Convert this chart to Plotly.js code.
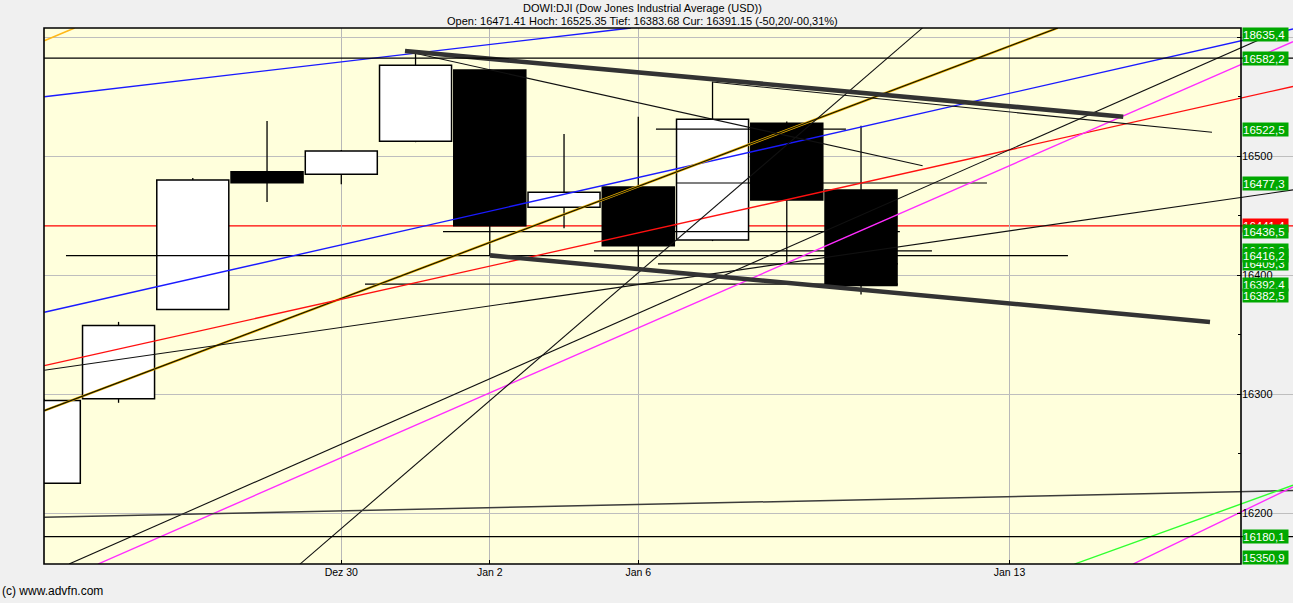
<!DOCTYPE html>
<html><head><meta charset="utf-8">
<script src="https://cdn.plot.ly/plotly-3.0.1.min.js"></script>
<style>html,body{margin:0;padding:0;background:#f0f0f0;overflow:hidden}#chart{width:1293px;height:603px}</style>
</head><body><div id="chart"></div>
<script>
// ---- data ----
const dayLabels = ['Dez 23','Dez 24','Dez 26','Dez 27','Dez 30','Dez 31','Jan 2','Jan 3','Jan 6','Jan 7','Jan 8','Jan 9','Jan 10','Jan 13'];
const opens  = [16225, 16296, 16371, 16486.8, 16484.6, 16512.4, 16572.3, 16456.9, 16474, 16429.4, 16527.5, 16471.41];
const highs  = [16296, 16360.6, 16481.5, 16529.4, 16505, 16586.3, 16573, 16518.5, 16533, 16562.4, 16529, 16525.35];
const lows   = [16225, 16292.6, 16371, 16461.3, 16476.2, 16511.6, 16416.2, 16439.2, 16405.9, 16428.5, 16409.3, 16383.68];
const closes = [16294.6, 16357.6, 16479.9, 16477.6, 16504.2, 16576.2, 16441.35, 16469.5, 16424.6, 16530.9, 16463, 16391.15];
const xTickLabels = ['Dez 30','Jan 2','Jan 6','Jan 13'];
const yTickValues = [16200, 16300, 16400, 16500, 16600];
const yMinorValues = [16150, 16250, 16350, 16450, 16550];

// drawn trend lines (day index, value) -> (day index, value)
const trendX0 = [0, 0, 0, 0, 0, 0, 0.333, 0.722, 3.444, 0, 13.875, 14.663, 4.858, 8.993, 4.858, 6.003];
const trendY0 = [16549.8, 16368.7, 16286.0, 16596.9, 16323.8, 16319.9, 16157.1, 16157.1, 16157.1, 16196.4, 16157.1, 16157.1, 16588.2, 16562.2, 16588.2, 16416.5];
const trendX1 = [7.902, 16.818, 13.650, 0.408, 16.818, 16.818, 16.723, 16.818, 11.828, 16.818, 16.818, 16.818, 11.830, 15.727, 14.532, 15.700];
const trendY1 = [16607.6, 16606.7, 16607.6, 16607.6, 16558.4, 16471.5, 16607.6, 16596.0, 16607.6, 16218.9, 16223.3, 16221.9, 16491.8, 16519.9, 16533.0, 16360.5];
const trendKind = ['blue','blue','gold','orange','red','black','black','magenta','black','gray','green','magenta','black','black','thick','thick'];

// horizontal segments
const segValues = [16416.2, 16392.4, 16477.3, 16436.5, 16522.5, 16409.3, 16420.2];
const segX0 = [0.292, 4.319, 8.521, 5.370, 8.238, 8.265, 7.403];
const segX1 = [13.787, 11.497, 12.696, 11.523, 10.797, 11.497, 11.955];
const fullLevels = [16582.2, 16180.1];
const prevClose = 16441.35;

// price tags on the right (drawn in this order)
const tagTexts = ['18635,4','16582,2','16522,5','16477,3','16441,4','16436,5','16420,2','16409,3','16416,2','16392,4','16382,5','16180,1','15350,9'];
const tagIsPrev = [false,false,false,false,true,false,false,false,false,false,false,false,false];

const titleLine1 = 'DOWI:DJI (Dow Jones Industrial Average (USD))';
const titleLine2 = 'Open: 16471.41 Hoch: 16525.35 Tief: 16383.68 Cur: 16391.15 (-50,20/-00,31%)';
const credit = '(c) www.advfn.com';

// ---- build ----
const W = 1293, H = 603, ML = 44, MT = 28, MB = 39;
const plotW = W - ML;
const axisFrac = (1241 - ML) / plotW;
const yRange = [16157.14, 16607.56];
const xRange = [-0.004, 16.818];
const FONT = 'Liberation Sans, Arial, sans-serif';

const up = {x:[], base:[], y:[]}, dn = {x:[], base:[], y:[]};
const wx = [], wy = [];
opens.forEach((o, i) => {
  const c = closes[i], lo = Math.min(o, c), hi = Math.max(o, c);
  const t = c >= o ? up : dn;
  t.x.push(i); t.base.push(lo); t.y.push(Math.max(hi - lo, 0.6));
  if (highs[i] > hi) { wx.push(i, i, null); wy.push(hi, highs[i], null); }
  if (lows[i] < lo) { wx.push(i, i, null); wy.push(lows[i], lo, null); }
});

const traces = [
  {type:'bar', x:up.x, base:up.base, y:up.y, width:0.97, marker:{color:'#ffffff', line:{color:'#000', width:1.5}}},
  {type:'bar', x:dn.x, base:dn.base, y:dn.y, width:0.97, marker:{color:'#000000', line:{color:'#000', width:1.5}}},
  {type:'scatter', mode:'lines', x:wx, y:wy, line:{color:'#000', width:1.3}}
];
segValues.forEach((v, i) => {
  traces.push({type:'scatter', mode:'lines', x:[segX0[i], segX1[i]], y:[v, v], line:{color:'#000', width:1.2}});
});
const kindStyle = {
  blue:{color:'#1a1aff', width:1.4}, red:{color:'#ff1010', width:1.3}, black:{color:'#111', width:1.1},
  magenta:{color:'#ff2cff', width:1.4}, gray:{color:'#3c3c3c', width:1.5}, green:{color:'#30ff30', width:1.4},
  orange:{color:'#ffb818', width:1.5}, thick:{color:'#333333', width:4.6}
};
trendX0.forEach((x0, i) => {
  const k = trendKind[i];
  const xs = [x0, trendX1[i]], ys = [trendY0[i], trendY1[i]];
  if (k === 'gold') {
    traces.push({type:'scatter', mode:'lines', x:xs, y:ys, line:{color:'#f0b400', width:2.4}});
    traces.push({type:'scatter', mode:'lines', x:xs, y:ys, line:{color:'#141400', width:1.2}});
  } else {
    traces.push({type:'scatter', mode:'lines', x:xs, y:ys, line:kindStyle[k]});
  }
});

const pxPerUnit = (H - MT - MB) / (yRange[1] - yRange[0]);
const clampTag = v => {
  const pad = 6.5 / pxPerUnit;
  return Math.min(Math.max(v, yRange[0] + pad), yRange[1] - pad);
};
const annotations = tagTexts.map((t, i) => ({
  xref:'paper', yref:'y', x:(1241.5 - ML) / plotW, y:clampTag(parseFloat(t.replace(',', '.'))),
  xanchor:'left', yanchor:'middle', text:t, showarrow:false, align:'left',
  width:45, height:13, borderpad:0, bgcolor: tagIsPrev[i] ? '#ff0000' : '#00a800',
  font:{family:FONT, size:11.5, color:'#ffffff'}
}));
const pyFrac = py => (H - MB - py) / (H - MT - MB);
annotations.push(
  {xref:'paper', yref:'paper', x:(642.5 - ML) / plotW, y:pyFrac(8), xanchor:'center', yanchor:'middle', text:titleLine1, showarrow:false, font:{family:FONT, size:11, color:'#000'}},
  {xref:'paper', yref:'paper', x:(642.5 - ML) / plotW, y:pyFrac(21), xanchor:'center', yanchor:'middle', text:titleLine2, showarrow:false, font:{family:FONT, size:11, color:'#000'}},
  {xref:'paper', yref:'paper', x:(0 - ML) / plotW, y:pyFrac(591), xanchor:'left', yanchor:'middle', text:credit, showarrow:false, font:{family:FONT, size:12, color:'#000'}}
);

const shapes = [
  {type:'rect', xref:'paper', yref:'paper', x0:axisFrac, x1:1.01, y0:-0.01, y1:1.01, fillcolor:'#f0f0f0', line:{width:0}, layer:'between'},
  {type:'line', xref:'paper', yref:'y', x0:0, x1:1, y0:prevClose, y1:prevClose, line:{color:'#ff0000', width:1.2}, layer:'between'}
];
fullLevels.forEach(v => shapes.push({type:'line', xref:'paper', yref:'y', x0:0, x1:1, y0:v, y1:v, line:{color:'#000', width:1.3}, layer:'above'}));
shapes.push({type:'rect', xref:'paper', yref:'paper', x0:0, x1:axisFrac, y0:0, y1:1, line:{color:'#000', width:1.6}, fillcolor:'rgba(0,0,0,0)', layer:'above'});

const layout = {
  width:W, height:H, margin:{l:ML, r:0, t:MT, b:MB, pad:0},
  paper_bgcolor:'#f0f0f0', plot_bgcolor:'#ffffdc', showlegend:false, barmode:'overlay', hovermode:false,
  xaxis:{range:xRange, tickmode:'array', tickvals:xTickLabels.map(l => dayLabels.indexOf(l)), ticktext:xTickLabels,
    ticks:'inside', ticklen:4, tickcolor:'#000', showgrid:true, gridcolor:'#b8b8b8', gridwidth:1, zeroline:false, showline:false,
    tickfont:{family:FONT, size:10.5, color:'#000'}, fixedrange:true},
  yaxis:{range:yRange, side:'right', anchor:'free', position:axisFrac, tickmode:'array', tickvals:yTickValues, ticktext:yTickValues.map(String),
    ticks:'inside', ticklen:4, tickcolor:'#000', showgrid:true, gridcolor:'#bebebe', gridwidth:1, zeroline:false, showline:false,
    minor:{tickmode:'array', tickvals:yMinorValues, ticks:'inside', ticklen:3, tickcolor:'#000', showgrid:false},
    tickfont:{family:FONT, size:11, color:'#000'}, fixedrange:true},
  shapes:shapes, annotations:annotations
};
Plotly.newPlot('chart', traces, layout, {staticPlot:true, displayModeBar:false});
</script></body></html>
